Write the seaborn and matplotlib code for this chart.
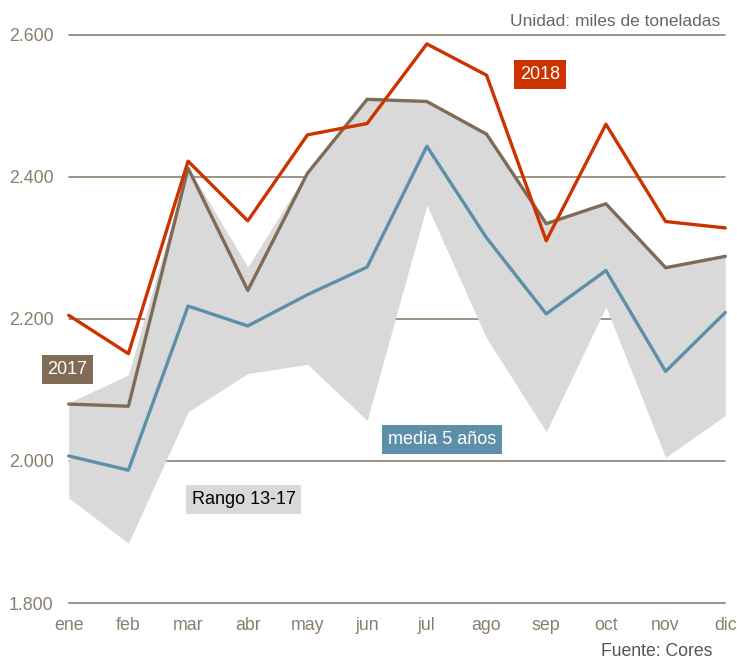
import matplotlib
matplotlib.use("Agg")
import matplotlib.pyplot as plt
import seaborn as sns
import pandas as pd

months = ["ene", "feb", "mar", "abr", "may", "jun", "jul", "ago", "sep", "oct", "nov", "dic"]
y2018 = [2205, 2151, 2422, 2338, 2459, 2475, 2587, 2543, 2310, 2474, 2337, 2328]
y2017 = [2080, 2077, 2412, 2240, 2405, 2509, 2506, 2460, 2334, 2362, 2272, 2288]
media = [2007, 1987, 2218, 2190, 2234, 2273, 2443, 2314, 2207, 2268, 2126, 2209]
rango_min = [1948, 1884, 2069, 2123, 2136, 2057, 2360, 2173, 2041, 2217, 2005, 2064]
rango_max = [2082, 2121, 2414, 2273, 2408, 2509, 2506, 2460, 2334, 2362, 2272, 2288]
yticks = [1800, 2000, 2200, 2400, 2600]
ytick_labels = ["1.800", "2.000", "2.200", "2.400", "2.600"]

RED = "#cc3300"
BROWN = "#7f6b56"
BLUE = "#5e8fa9"
GREY = "#d9d9d9"
TICK = "#8a7e6c"
GRID = "#8c8270"

sns.set_theme(style="white")
plt.rcParams["font.family"] = ["Liberation Sans", "DejaVu Sans"]

fig = plt.figure(figsize=(7.37, 6.59), dpi=100)
ax = fig.add_axes([68.7 / 737, 1 - 603 / 659, (725.3 - 68.7) / 737, (603 - 34.7) / 659])

x = list(range(len(months)))
df = pd.DataFrame({"x": x, "y2018": y2018, "y2017": y2017, "media": media})

for yv in yticks[1:]:
    ax.axhline(yv, color=GRID, lw=1.2, zorder=0)
ax.axhline(1800, color="#999999", lw=1.5, zorder=0)

ax.fill_between(x, rango_min, rango_max, color=GREY, lw=0, zorder=1)
sns.lineplot(data=df, x="x", y="media", color=BLUE, lw=2.4, ax=ax, zorder=3)
sns.lineplot(data=df, x="x", y="y2017", color=BROWN, lw=2.4, ax=ax, zorder=4)
sns.lineplot(data=df, x="x", y="y2018", color=RED, lw=2.4, ax=ax, zorder=5)
for l in ax.lines:
    l.set_clip_on(False)

ax.set_xlim(0, 11)
ax.set_ylim(1800, 2600)
ax.set_xticks(x)
ax.set_xticklabels(months)
ax.set_yticks(yticks)
ax.set_yticklabels(ytick_labels)
ax.tick_params(axis="both", length=0, labelsize=12.8, colors=TICK)
ax.tick_params(axis="y", pad=11)
ax.tick_params(axis="x", pad=10)
ax.set_xlabel("")
ax.set_ylabel("")
for s in ax.spines.values():
    s.set_visible(False)

def label(xd, yd, txt, fc, tc):
    ax.text(xd, yd, txt, ha="center", va="center", fontsize=13, color=tc, zorder=6,
            bbox=dict(boxstyle="square,pad=0.32", fc=fc, ec="none"))

label(7.9, 2544, "2018", RED, "white")
label(-0.02, 2129, "2017", BROWN, "white")
label(6.26, 2030, "media 5 años", BLUE, "white")
label(2.93, 1946, "Rango 13-17", GREY, "black")

fig.text(720 / 737, 1 - 21 / 659, "Unidad: miles de toneladas", ha="right", va="center",
         fontsize=12.5, color="#666666")
fig.text(712 / 737, 1 - 652 / 659, "Fuente: Cores", ha="right", va="center",
         fontsize=12.7, color="#555555")

fig.savefig("out.png", dpi=100)
